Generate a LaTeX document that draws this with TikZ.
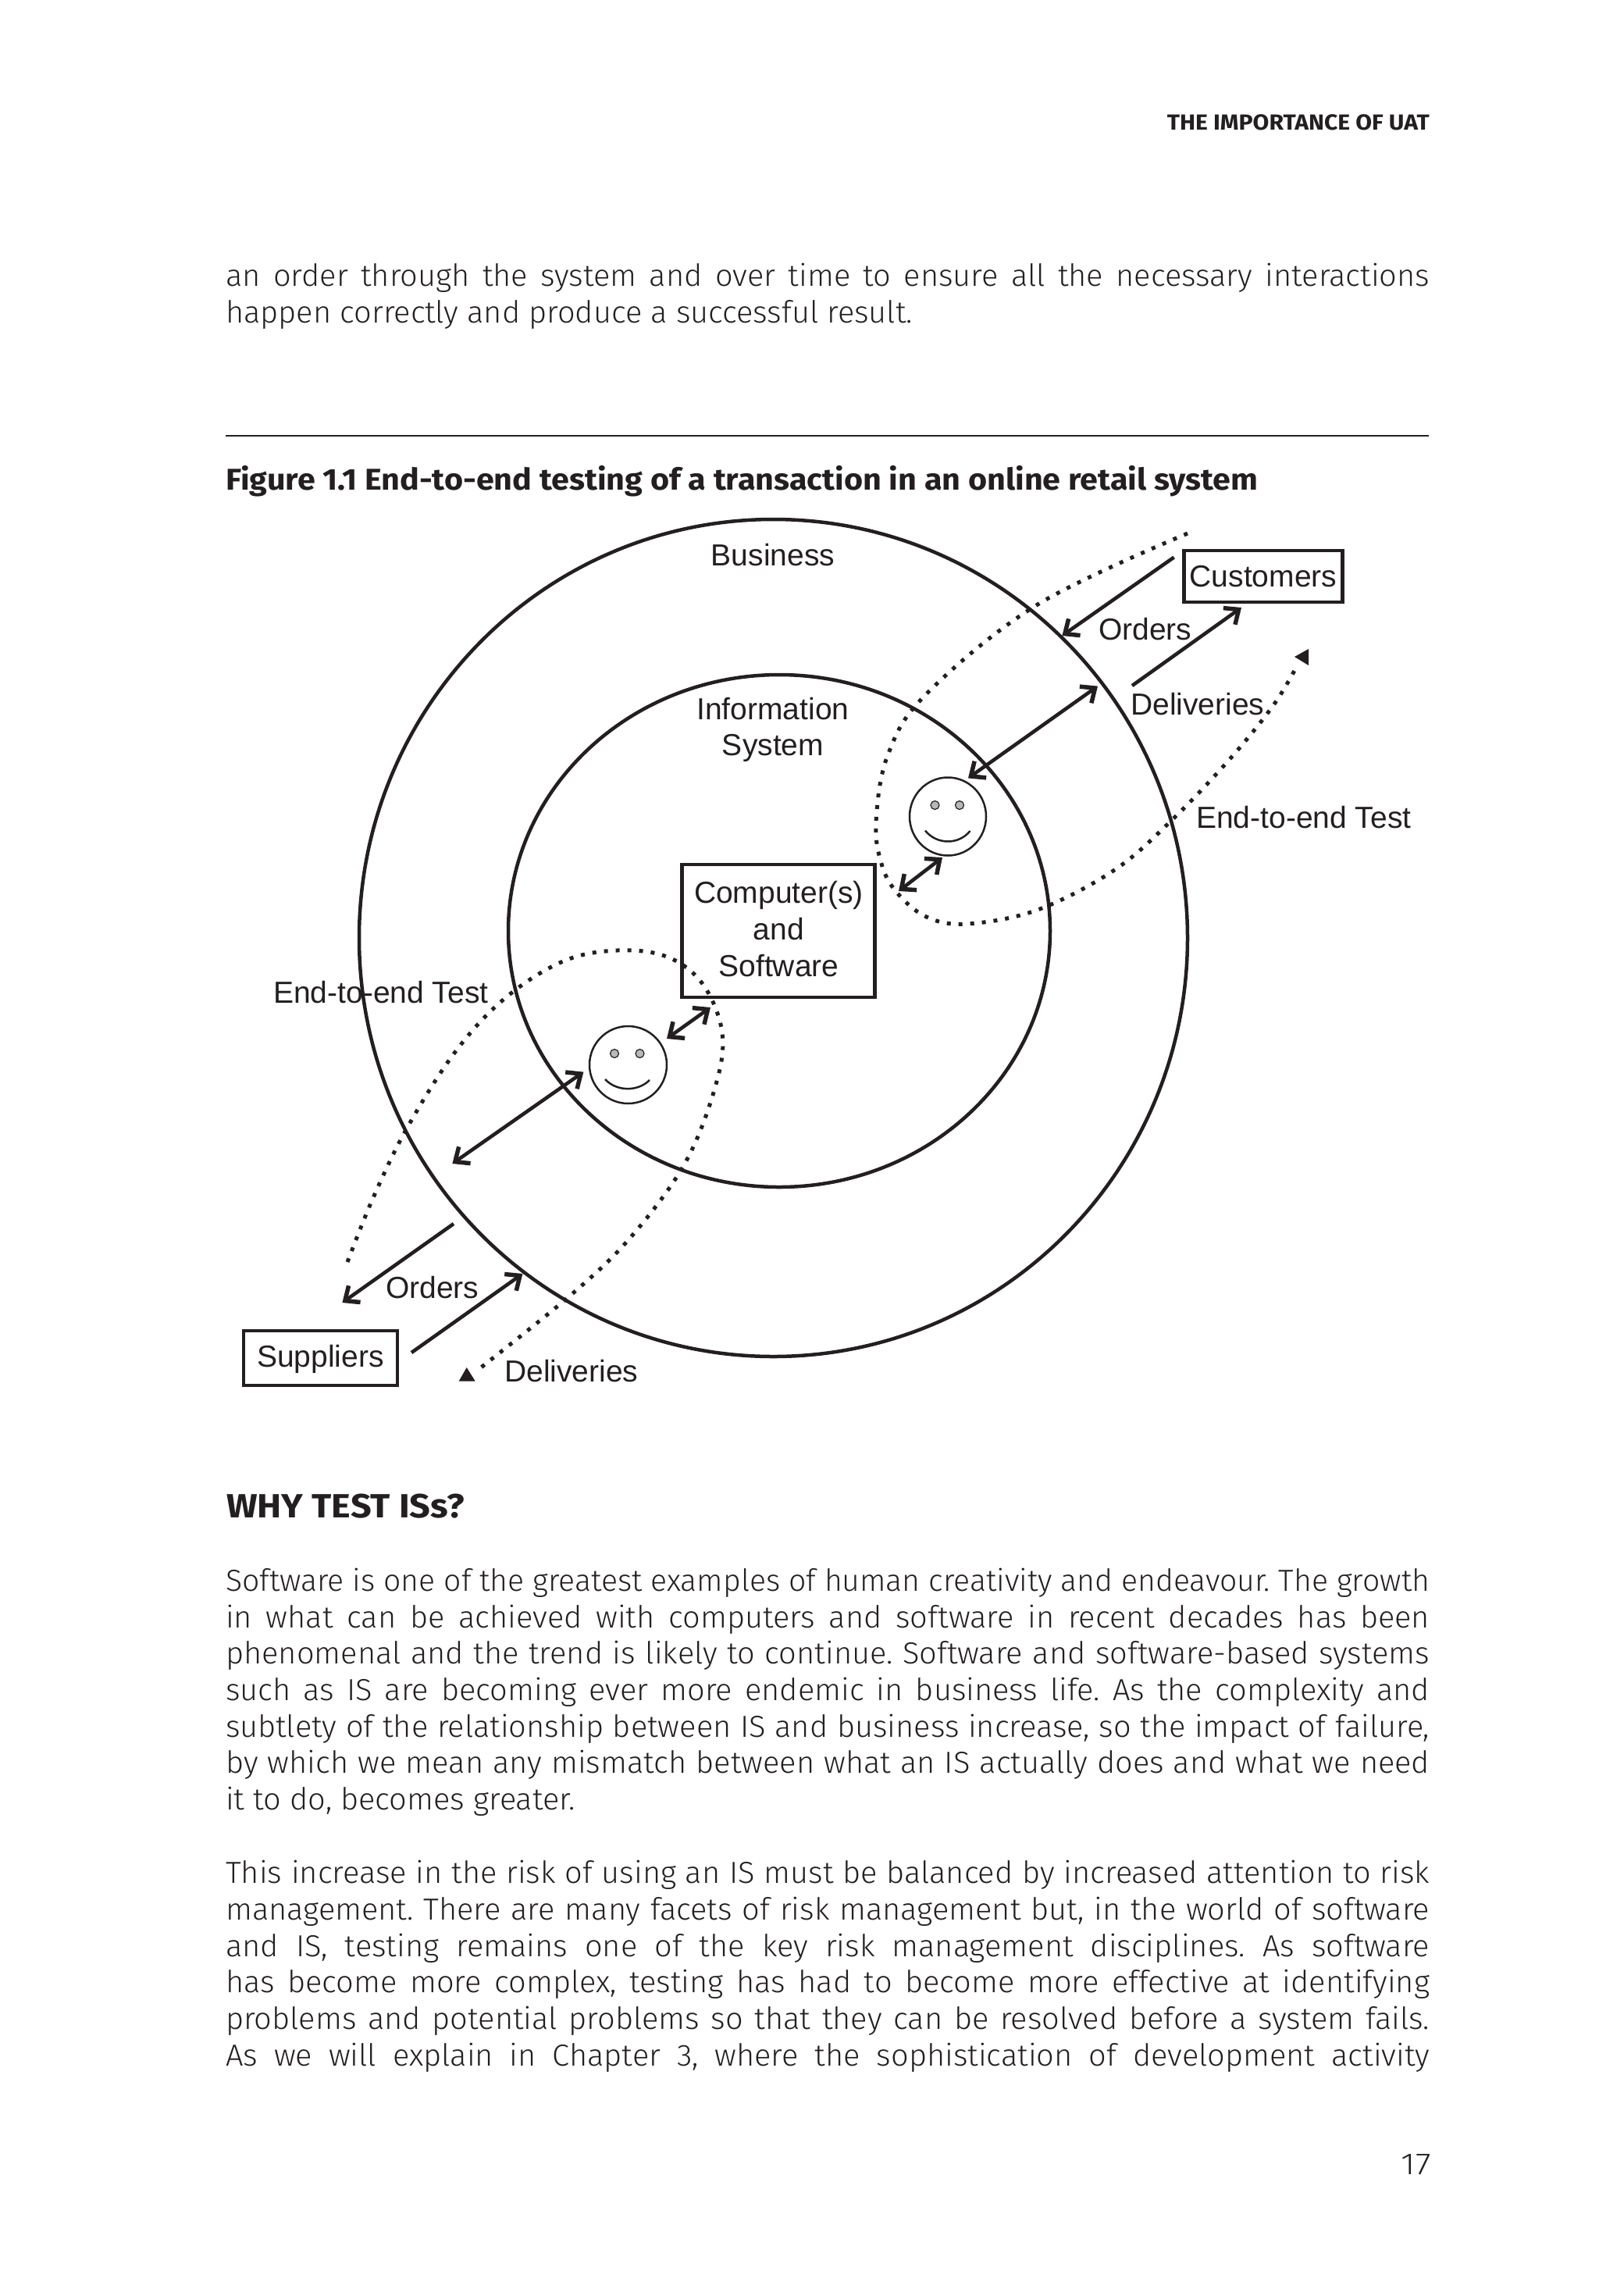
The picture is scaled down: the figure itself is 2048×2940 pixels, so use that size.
\documentclass[tikz,border=0pt]{standalone}
\usepackage{fontspec}
\usepackage{graphicx}
\usetikzlibrary{arrows.meta,shapes.geometric}
\setmainfont{Liberation Sans}
\newfontfamily\bodyf[UprightFont=*-Light,FakeStretch=1.02]{Fira Sans}
\newfontfamily\headf[UprightFont=*-Bold]{Fira Sans}
\definecolor{ink}{HTML}{231F20}
\frenchspacing
\newsavebox{\linebox}
\newcommand{\fitw}[2]{\resizebox{#1}{\height}{#2}}
\newcommand{\just}[1]{\sbox{\linebox}{#1}\ifdim\wd\linebox>1542pt\resizebox{1542pt}{\height}{#1}\else\makebox[1542pt][s]{#1}\fi}
\tikzset{
  every node/.style={text=ink,inner sep=0pt},
  bodyline/.style={anchor=base west,font=\bodyf\fontsize{39}{39}\selectfont},
  label/.style={anchor=base,yshift=-1.5pt,font=\fontsize{39}{39}\selectfont},
  ring/.style={draw=ink,line width=4.5pt},
  boxed/.style={draw=ink,line width=4.5pt,fill=none},
  face/.style={draw=ink,line width=2.5pt},
  eye/.style={draw=ink,line width=1.2pt,fill=black!28},
  arr/.style={draw=ink,line width=4.6pt,-{Straight Barb[length=15pt,width=26pt,line width=5.5pt]}},
  dbl/.style={draw=ink,line width=4.6pt,{Straight Barb[length=15pt,width=26pt,line width=5.5pt]}-{Straight Barb[length=15pt,width=26pt,line width=5.5pt]}},
  dots/.style={draw=ink,line width=5pt,dash pattern=on 5pt off 10pt},
}
\begin{document}
\begin{tikzpicture}[x=1pt,y=-1pt]
\useasboundingbox (0,0) rectangle (2048,2940);
% page furniture
\node (hdr) [anchor=base east,font=\headf\fontsize{28}{28}\selectfont] at (1831,166) {\fitw{336pt}{THE IMPORTANCE OF UAT}};
\node (t1) [bodyline] at (289,366) {\just{an order through the system and over time to ensure all the necessary interactions}};
\node (t2) [bodyline] at (289,413) {happen correctly and produce a successful result.};
\coordinate (ruleL) at (289,558);
\coordinate (ruleR) at (1830,558);
\draw[draw=ink,line width=2.6pt] (ruleL) -- (ruleR);
\node (cap) [anchor=base west,font=\headf\fontsize{38.5}{38.5}\selectfont] at (289,627) {\fitw{1322pt}{Figure 1.1 End-to-end testing of a transaction in an online retail system}};
% rings
\draw[ring] (990.5,1201) ellipse [x radius=530.5pt,y radius=536pt];
\draw[ring] (998,1192) ellipse [x radius=347pt,y radius=328pt];
% dotted end-to-end test paths
\coordinate (dotAs) at (1521,683);
\coordinate (dotAe) at (1661,853);
\draw[dots] plot[smooth,tension=0.6] coordinates {(dotAs) (1329,774) (1186.5,888.6) (1137,967) (1122,1053) (1129,1106) (1148,1142) (1186.5,1174) (1238.6,1183) (1329,1165) (1428,1113.6) (1502,1049) (1576,971) (1631,903) (dotAe)};
\fill[ink] (1676,831) -- (1658,841) -- (1676,852) -- cycle;
\coordinate (dotBs) at (445,1616);
\coordinate (dotBe) at (611,1755);
\draw[dots] plot[smooth,tension=0.6] coordinates {(dotBs) (477.4,1535) (521,1445) (583,1347) (647,1278) (721,1231) (790,1217) (854,1225) (900,1260) (925,1323) (916,1392) (877,1490) (808,1584) (732,1657.5) (dotBe)};
\fill[ink] (587.6,1768.6) -- (597.7,1751) -- (608.7,1768.6) -- cycle;
% boxes
\node (comp) [boxed,minimum width=247pt,minimum height=170pt] at (997,1192) {};
\node (cust) [boxed,minimum width=203pt,minimum height=66pt] at (1618,738) {};
\node (supp) [boxed,minimum width=197pt,minimum height=70pt] at (410.5,1739) {};
% labels
\node (lbiz) [label] at (990,723) {Business};
\node (lis1) [label] at (990,920) {Information};
\node (lis2) [label] at (990,966) {System};
\node (lc1) [label] at (997.5,1155) {Computer(s)};
\node (lc2) [label] at (997.5,1202) {and};
\node (lc3) [label] at (997.5,1249) {Software};
\node (lcust) [label] at (1618,750) {Customers};
\node (lsupp) [label] at (410.5,1749) {Suppliers};
\node (lo1) [label,anchor=base west] at (1407,818) {Orders};
\node (ld1) [label,anchor=base west] at (1448,914) {Deliveries};
\node (le1) [label,anchor=base west] at (1532,1059) {End-to-end Test};
\node (le2) [label,anchor=base west] at (350,1283) {End-to-end Test};
\node (lo2) [label,anchor=base west] at (494,1661) {Orders};
\node (ld2) [label,anchor=base west] at (646,1768) {Deliveries};
% smileys
\node (faceA) [ellipse,face,minimum width=98pt,minimum height=100pt] at (1214,1045.5) {};
\node (eyeA1) [circle,eye,minimum size=11pt] at (1197.5,1031) {};
\node (eyeA2) [circle,eye,minimum size=11pt] at (1229,1031) {};
\draw[face] (1185,1063.6) .. controls (1200,1082) and (1228,1082) .. (1242.5,1064);
\node (faceB) [ellipse,face,minimum width=99pt,minimum height=99pt] at (804.5,1363.5) {};
\node (eyeB1) [circle,eye,minimum size=11pt] at (787,1349) {};
\node (eyeB2) [circle,eye,minimum size=11pt] at (819.5,1349) {};
\draw[face] (775,1382) .. controls (790,1398) and (817,1398) .. (832,1383);
% connectors
\coordinate (a1s) at (1503.6,713.6);
\coordinate (a1e) at (1360.4,814);
\coordinate (a2s) at (1450,878);
\coordinate (a2e) at (1590,778);
\coordinate (a3s) at (1406,878.6);
\coordinate (a3e) at (1240,996.4);
\coordinate (a4s) at (1207,1098);
\coordinate (a4e) at (1151,1141);
\coordinate (a5s) at (581,1567);
\coordinate (a5e) at (438.4,1668);
\coordinate (a6s) at (527,1732);
\coordinate (a6e) at (669.4,1631);
\coordinate (a7s) at (747.4,1372.6);
\coordinate (a7e) at (579.4,1490);
\coordinate (a8s) at (910,1290);
\coordinate (a8e) at (854,1330);
\draw[arr] (a1s) -- (a1e);
\draw[arr] (a2s) -- (a2e);
\draw[dbl] (a3s) -- (a3e);
\draw[dbl] (a4s) -- (a4e);
\draw[arr] (a5s) -- (a5e);
\draw[arr] (a6s) -- (a6e);
\draw[dbl] (a7s) -- (a7e);
\draw[dbl] (a8s) -- (a8e);
% lower text
\node (wh) [anchor=base west,font=\headf\fontsize{43}{43}\selectfont] at (290,1943) {\fitw{305pt}{WHY TEST ISs?}};
\node (p11) [bodyline] at (289,2037) {\just{Software is one of the greatest examples of human creativity and endeavour. The growth}};
\node (p12) [bodyline] at (289,2084) {\just{in what can be achieved with computers and software in recent decades has been}};
\node (p13) [bodyline] at (289,2130.7) {\just{phenomenal and the trend is likely to continue. Software and software-based systems}};
\node (p14) [bodyline] at (289,2177) {\just{such as IS are becoming ever more endemic in business life. As the complexity and}};
\node (p15) [bodyline] at (289,2224) {\just{subtlety of the relationship between IS and business increase, so the impact of failure,}};
\node (p16) [bodyline] at (289,2270.7) {\just{by which we mean any mismatch between what an IS actually does and what we need}};
\node (p17) [bodyline] at (289,2317) {it to do, becomes greater.};
\node (p21) [bodyline] at (289,2411) {\just{This increase in the risk of using an IS must be balanced by increased attention to risk}};
\node (p22) [bodyline] at (289,2458) {\just{management. There are many facets of risk management but, in the world of software}};
\node (p23) [bodyline] at (289,2505) {\just{and IS, testing remains one of the key risk management disciplines. As software}};
\node (p24) [bodyline] at (289,2551) {\just{has become more complex, testing has had to become more effective at identifying}};
\node (p25) [bodyline] at (289,2598) {\just{problems and potential problems so that they can be resolved before a system fails.}};
\node (p26) [bodyline] at (289,2645) {\just{As we will explain in Chapter 3, where the sophistication of development activity}};
\node (pg) [anchor=base east,font=\bodyf\fontsize{39}{39}\selectfont] at (1833,2784) {\fitw{38pt}{17}};
\end{tikzpicture}
\end{document}
